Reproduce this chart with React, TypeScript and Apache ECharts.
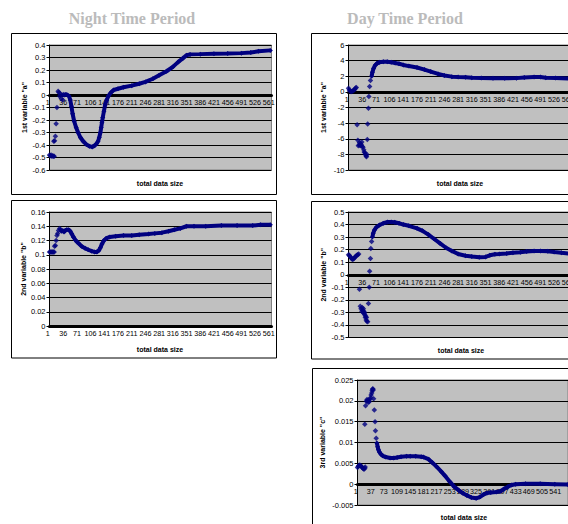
import React, { useEffect, useRef } from "react";
import * as echarts from "echarts";

// ---------- data (x = data-size index, 1-based) ----------
const nightA_sparse: number[][] = [
  [1, -0.48], [3, -0.485], [5, -0.48], [7, -0.49], [9, -0.485], [11, -0.49], [13, -0.49],
  [12, -0.37], [14, -0.365], [16, -0.33], [18, -0.23], [20, -0.1], [23, 0.03], [25, 0.02],
  [27, -0.01], [29, 0.01], [31, -0.03], [33, 0.0], [35, -0.04], [37, 0.005],
];
const nightA_dense: number[][] = [
  [39, 0.0], [43, 0.005], [47, 0.0], [51, -0.01], [54, -0.04], [57, -0.09], [60, -0.15],
  [64, -0.21], [69, -0.26], [74, -0.3], [80, -0.34], [87, -0.37], [95, -0.395], [103, -0.41],
  [110, -0.415], [116, -0.405], [121, -0.39], [125, -0.37], [128, -0.34], [131, -0.3],
  [133, -0.26], [135, -0.22], [137, -0.18], [140, -0.13], [143, -0.08], [147, -0.04],
  [152, -0.005], [158, 0.02], [165, 0.04], [176, 0.05], [190, 0.062], [211, 0.075],
  [230, 0.09], [246, 0.105], [265, 0.13], [281, 0.158], [300, 0.19], [316, 0.225],
  [330, 0.265], [342, 0.295], [351, 0.318], [360, 0.325], [386, 0.327], [421, 0.33],
  [456, 0.332], [491, 0.335], [515, 0.34], [535, 0.35], [565, 0.357],
];

const nightB_sparse: number[][] = [
  [1, 0.104], [3, 0.104], [5, 0.104], [7, 0.104], [9, 0.104], [11, 0.104], [13, 0.104],
  [14, 0.112], [16, 0.113], [18, 0.12], [20, 0.127], [22, 0.13], [24, 0.134], [27, 0.137],
];
const nightB_dense: number[][] = [
  [29, 0.135], [32, 0.133], [35, 0.134], [38, 0.132], [41, 0.134], [45, 0.135], [50, 0.135],
  [54, 0.133], [58, 0.129], [62, 0.125], [68, 0.12], [75, 0.116], [83, 0.112], [92, 0.109],
  [100, 0.107], [109, 0.105], [116, 0.104], [122, 0.104], [127, 0.106], [131, 0.11],
  [135, 0.115], [140, 0.12], [146, 0.123], [155, 0.125], [170, 0.126], [190, 0.127],
  [211, 0.127], [230, 0.128], [254, 0.129], [270, 0.13], [288, 0.131], [305, 0.133],
  [320, 0.135], [335, 0.137], [351, 0.14], [370, 0.14], [400, 0.14], [440, 0.141],
  [480, 0.141], [520, 0.141], [540, 0.142], [565, 0.142],
];

const dayA_sparse: number[][] = [
  [1, 0.45], [3, 0.25], [5, 0.1], [7, 0.05], [9, 0.05], [11, 0.1], [13, 0.15], [15, 0.25],
  [17, 0.35], [19, 0.5], [21, 0.55],
  [23, -4.2], [25, -6.2], [26, -6.9], [28, -6.8], [29, -6.5], [31, -6.9], [32, -6.6],
  [34, -6.8], [35, -6.4], [36, -7.0], [38, -7.1], [40, -7.4], [41, -7.7], [43, -7.8],
  [44, -8.0], [46, -8.2], [47, -8.3], [48, -8.0],
  [49, -6.1], [50, -4.1], [52, -2.1], [53, -0.6], [55, 0.7], [57, 1.45],
];
const dayA_dense: number[][] = [
  [60, 2.0], [62, 2.5], [65, 3.0], [69, 3.4], [74, 3.65], [80, 3.78], [90, 3.85], [100, 3.85],
  [110, 3.8], [120, 3.7], [130, 3.6], [141, 3.45], [155, 3.3], [176, 3.12], [195, 2.85],
  [211, 2.6], [230, 2.3], [246, 2.1], [265, 1.95], [281, 1.9], [300, 1.88], [316, 1.82],
  [340, 1.78], [370, 1.75], [400, 1.75], [430, 1.76], [450, 1.85], [475, 1.9], [491, 1.9],
  [505, 1.82], [530, 1.78], [565, 1.72],
];

const dayB_sparse: number[][] = [
  [1, 0.16], [3, 0.155], [5, 0.145], [7, 0.138], [9, 0.13], [11, 0.122], [13, 0.125],
  [15, 0.13], [17, 0.137], [19, 0.145], [21, 0.152], [23, 0.157], [25, 0.16], [27, 0.165],
  [29, -0.115], [31, -0.25], [33, -0.27], [35, -0.29], [36, -0.26], [37, -0.28], [38, -0.3],
  [39, -0.27], [40, -0.29], [41, -0.31], [42, -0.3], [43, -0.32], [44, -0.34], [45, -0.33],
  [46, -0.36], [47, -0.34], [48, -0.37], [50, -0.375],
  [52, -0.23], [54, -0.1], [55, 0.027], [57, 0.13], [58, 0.21], [60, 0.265],
];
const dayB_dense: number[][] = [
  [62, 0.3], [64, 0.33], [67, 0.355], [72, 0.378], [80, 0.396], [90, 0.41], [101, 0.42],
  [110, 0.42], [119, 0.418], [130, 0.41], [141, 0.4], [155, 0.39], [176, 0.37], [190, 0.35],
  [205, 0.32], [220, 0.285], [235, 0.25], [250, 0.215], [265, 0.19], [281, 0.165],
  [300, 0.152], [316, 0.145], [335, 0.14], [351, 0.142], [362, 0.155], [375, 0.163],
  [386, 0.165], [405, 0.17], [421, 0.175], [440, 0.18], [456, 0.185], [475, 0.19],
  [491, 0.19], [510, 0.188], [526, 0.182], [545, 0.175], [565, 0.168],
];

const dayC_sparse: number[][] = [
  [1, 0.004], [3, 0.0043], [5, 0.0045], [7, 0.0046], [9, 0.0045], [11, 0.0043], [13, 0.0041],
  [15, 0.0039], [17, 0.0037], [19, 0.0036], [21, 0.0038], [22, 0.0041],
  [21, 0.0144], [23, 0.0188], [25, 0.0199], [27, 0.0203], [28, 0.0201], [30, 0.0196],
  [31, 0.0202], [33, 0.0198], [35, 0.0204], [37, 0.0208], [38, 0.0214], [40, 0.0219],
  [41, 0.0224], [42, 0.0228], [43, 0.0229], [44, 0.0226], [45, 0.0205], [47, 0.0178],
  [49, 0.015], [50, 0.0128], [52, 0.011],
];
const dayC_dense: number[][] = [
  [54, 0.0099], [56, 0.009], [58, 0.0083], [61, 0.0077], [65, 0.0072], [70, 0.0068],
  [78, 0.0065], [90, 0.0063], [100, 0.0063], [109, 0.0064], [120, 0.0066], [135, 0.0067],
  [145, 0.0067], [160, 0.0067], [175, 0.0066], [181, 0.0065], [195, 0.006], [205, 0.0052],
  [217, 0.0042], [230, 0.003], [240, 0.002], [253, 0.0006], [265, -0.0006], [278, -0.0015],
  [289, -0.0022], [300, -0.0027], [312, -0.0032], [325, -0.0034], [335, -0.0031],
  [345, -0.0025], [355, -0.0021], [365, -0.002], [380, -0.0019], [392, -0.0017],
  [402, -0.0011], [412, -0.0006], [422, -0.0002], [433, 0], [460, 0.0001], [500, 0.0001],
  [540, 0.0], [575, -0.0001],
];

const panelTitles = ["Night Time Period", "Day Time Period"];
const yNames = ['1st variable "a"', '2nd variable "b"', '1st variable "a"', '2nd variable "b"', '3rd variable "c"'];
const xName = "total data size";
const firstXLabel = "1";

// y-axis ranges: [min, max, interval]
const yRanges: number[][] = [
  [-0.6, 0.4, 0.1],
  [0, 0.16, 0.02],
  [-10, 6, 2],
  [-0.5, 0.5, 0.1],
  [-0.005, 0.025, 0.005],
];
// x-axis: [max (0-based), label interval]
const xRanges: number[][] = [
  [567, 35],
  [567, 35],
  [567, 35],
  [567, 35],
  [575, 36],
];

const sparseSets = [nightA_sparse, nightB_sparse, dayA_sparse, dayB_sparse, dayC_sparse];
const denseSets = [nightA_dense, nightB_dense, dayA_dense, dayB_dense, dayC_dense];

// ---------- layout ----------
const grids = [
  { left: 49.5, top: 45, width: 222, height: 125 },
  { left: 49.5, top: 212, width: 222, height: 114 },
  { left: 348.5, top: 45, width: 222, height: 125 },
  { left: 348.5, top: 212, width: 222, height: 125.5 },
  { left: 357.5, top: 380, width: 210.5, height: 125 },
];
const boxes = [
  { x: 11.5, y: 33.5, width: 265, height: 161 },
  { x: 11.5, y: 200.5, width: 265, height: 157.5 },
  { x: 311.5, y: 33.5, width: 300, height: 161 },
  { x: 311.5, y: 201.5, width: 300, height: 157.5 },
  { x: 312.5, y: 368.5, width: 300, height: 200 },
];
const xNamePos = [
  [160, 183],
  [160, 349],
  [460, 183],
  [461, 350],
  [464, 517],
];
const nameGaps = [22, 22, 22, 22, 32];
const LABEL_MARGIN = 4;
const XLABEL_SIZE = 7.2;

const NAVY = "#000080";
const FONT = "'Liberation Sans', Arial, sans-serif";

export default function App() {
  const ref = useRef<HTMLDivElement>(null);
  useEffect(() => {
    const chart = echarts.init(ref.current!, null, { renderer: "svg" });
    // offset (px) that puts each x axis on the y = 0 level of its grid
    const zeroOffsets = grids.map((g, i) => {
      const [ymin, ymax] = yRanges[i];
      return (-g.height * (0 - ymin)) / (ymax - ymin);
    });
    const option: any = {
      animation: false,
      backgroundColor: "#fff",
      grid: grids.map((g) => ({
        ...g,
        show: true,
        backgroundColor: "#c0c0c0",
        borderColor: "#808080",
        borderWidth: 1,
        containLabel: false,
      })),
      xAxis: grids.map((g, i) => ({
        type: "value",
        gridIndex: i,
        position: "bottom",
        offset: zeroOffsets[i],
        min: 0,
        max: xRanges[i][0],
        interval: xRanges[i][1],
        axisLine: { onZero: false, lineStyle: { color: "#000", width: 3 } },
        axisTick: { show: false },
        splitLine: { show: false },
        axisLabel: {
          fontSize: XLABEL_SIZE,
          fontFamily: FONT,
          color: "#000",
          margin: LABEL_MARGIN,
          showMinLabel: false,
          showMaxLabel: false,
          hideOverlap: false,
          formatter: (v: number) => String(Math.round(v) + 1),
        },
      })),
      yAxis: grids.map((_, i) => ({
        type: "value",
        gridIndex: i,
        min: yRanges[i][0],
        max: yRanges[i][1],
        interval: yRanges[i][2],
        axisLine: { show: true, onZero: false, lineStyle: { color: "#000", width: 1 } },
        axisTick: { show: true, length: 3, lineStyle: { color: "#000" } },
        splitLine: { show: true, lineStyle: { color: "#000", width: 1 } },
        axisLabel: {
          fontSize: 7.5,
          fontFamily: FONT,
          color: "#000",
          margin: 4,
          showMinLabel: true,
          showMaxLabel: true,
        },
        name: yNames[i],
        nameLocation: "middle",
        nameGap: nameGaps[i],
        nameRotate: 90,
        nameTextStyle: { fontSize: 7, fontWeight: "bold", fontFamily: FONT, color: "#000" },
      })),
      series: [
        ...denseSets.map((d, i) => ({
          type: "line",
          xAxisIndex: i,
          yAxisIndex: i,
          data: d.map(([x, y]) => [x - 1, y]),
          symbol: "diamond",
          symbolSize: 5,
          showSymbol: true,
          lineStyle: { color: NAVY, width: 4 },
          itemStyle: { color: NAVY },
          z: 3,
        })),
        ...sparseSets.map((d, i) => ({
          type: "scatter",
          xAxisIndex: i,
          yAxisIndex: i,
          data: d.map(([x, y]) => [x - 1, y]),
          symbol: "diamond",
          symbolSize: 5.5,
          itemStyle: { color: NAVY },
          z: 4,
        })),
      ],
      graphic: [
        ...boxes.map((b) => ({
          type: "rect",
          shape: b,
          style: { fill: "none", stroke: "#000", lineWidth: 1 },
          silent: true,
          z: -1,
        })),
        // first label "1" of each x axis, just left of the y-axis line
        ...grids.map((g, i) => ({
          type: "text",
          x: g.left - 1.8,
          y: g.top + g.height + zeroOffsets[i] + LABEL_MARGIN,
          z: 100,
          zlevel: 1,
          style: {
            text: firstXLabel,
            font: `${XLABEL_SIZE}px ${FONT}`,
            fill: "#000",
            textAlign: "center",
            textVerticalAlign: "top",
          },
        })),
        ...xNamePos.map(([x, y]) => ({
          type: "text",
          x,
          y,
          style: {
            text: xName,
            font: `bold 7px ${FONT}`,
            fill: "#000",
            textAlign: "center",
            textVerticalAlign: "middle",
          },
        })),
        {
          type: "text",
          x: 132,
          y: 18,
          style: {
            text: panelTitles[0],
            font: "bold 16px 'Liberation Serif', 'Times New Roman', serif",
            fill: "#bbbbbb",
            textAlign: "center",
            textVerticalAlign: "middle",
          },
        },
        {
          type: "text",
          x: 405,
          y: 18,
          style: {
            text: panelTitles[1],
            font: "bold 16px 'Liberation Serif', 'Times New Roman', serif",
            fill: "#bbbbbb",
            textAlign: "center",
            textVerticalAlign: "middle",
          },
        },
      ],
    };
    chart.setOption(option);
    return () => chart.dispose();
  }, []);
  return (
    <div
      style={{
        position: "fixed",
        left: 0,
        top: 0,
        width: 568,
        height: 524,
        overflow: "hidden",
        background: "#fff",
      }}
    >
      <div ref={ref} style={{ width: 620, height: 560 }} />
    </div>
  );
}
